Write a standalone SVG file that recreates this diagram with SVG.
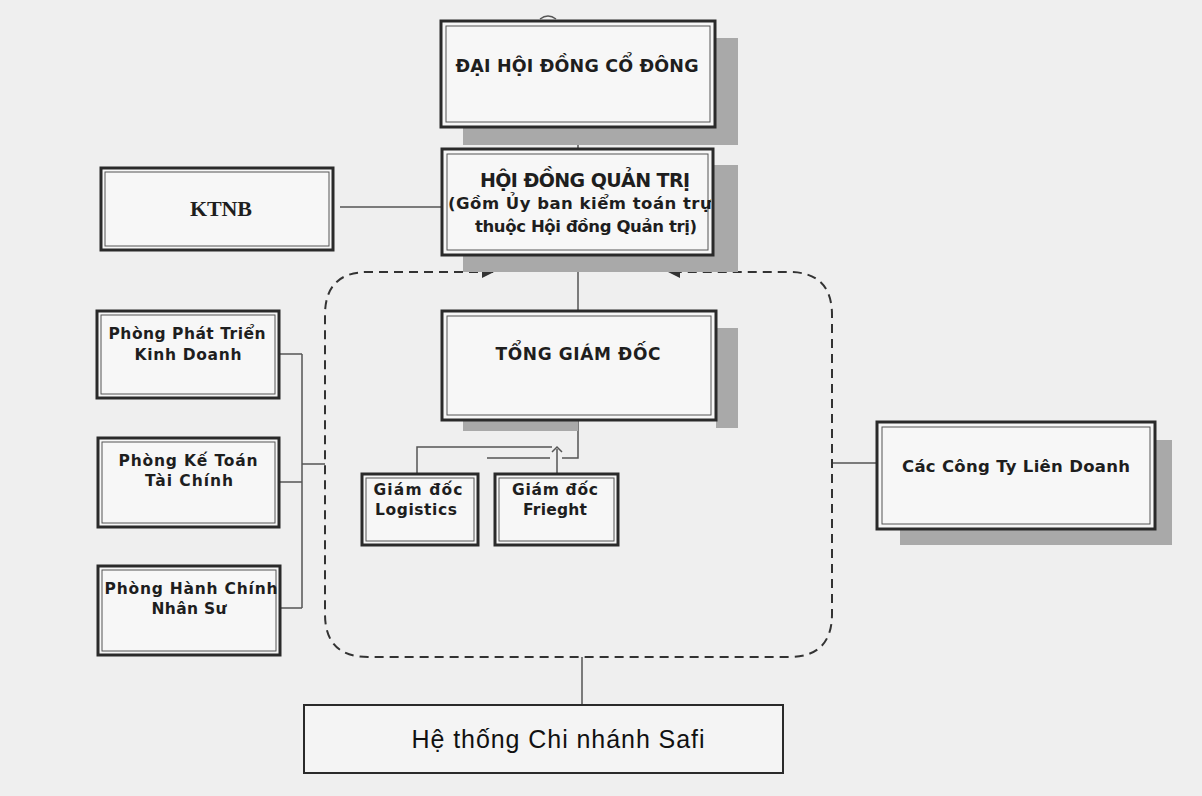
<svg xmlns="http://www.w3.org/2000/svg" width="1202" height="796" viewBox="0 0 1202 796">
<defs>
<style>
.bg{fill:#efefef}
.shadow{fill:#a9a9a9}
.box{fill:#f7f7f7;stroke:#2a2a2a;stroke-width:3}
.inner{fill:none;stroke:#555;stroke-width:1}
.t{font-family:"DejaVu Sans",Verdana,sans-serif;font-weight:bold;fill:#1e1e1e;text-anchor:middle}
.ts{font-family:"DejaVu Sans",Verdana,sans-serif;font-weight:bold;fill:#1e1e1e;text-anchor:start}
.line{fill:none;stroke:#555;stroke-width:1.5}
.dash{fill:none;stroke:#333;stroke-width:2;stroke-dasharray:9 6}
</style>
<clipPath id="hdqt"><rect x="444" y="150" width="267" height="104"/></clipPath>
</defs>
<rect class="bg" x="0" y="0" width="1202" height="796"/>

<g id="connectors">
<path class="line" d="M540 19 Q548 13 556 19"/>
<path class="line" d="M578 127 V148"/>
<path class="line" d="M340 207 H441"/>
<path class="line" d="M578 255 V310"/>
<path class="line" d="M578 420 V458 H562"/>
<path class="line" d="M417 473 V447 H552"/>
<path class="line" d="M557 473 V449"/>
<path class="line" d="M552 452 L557 447 L562 452"/>
<path class="line" d="M487 458 H550"/>
<path class="line" d="M279 354 H302 M279 482 H302 M280 608 H302 M302 354 V608 M302 464 H325"/>
<path class="line" d="M832 463 H876"/>
<path class="line" d="M582 657 V704"/>
<path class="dash" d="M493 272 H368 Q325 272 325 315 V614 Q325 657 368 657 H789 Q832 657 832 614 V315 Q832 272 789 272 H670"/>
<path d="M482 266 L494 272 L482 278 Z" fill="#333"/>
<path d="M680 266 L668 272 L680 278 Z" fill="#333"/>
</g>

<g id="dhdcd">
<rect class="shadow" x="715" y="38" width="23" height="107"/>
<rect class="shadow" x="463" y="127" width="275" height="18"/>
<rect class="box" x="441" y="21" width="274" height="106"/>
<rect class="inner" x="446" y="26" width="264" height="96"/>
<text class="t" x="577" y="72" font-size="17.5" textLength="243">ĐẠI HỘI ĐỒNG CỔ ĐÔNG</text>
</g>

<g id="hdqt-node">
<rect class="shadow" x="713" y="165" width="25" height="107"/>
<rect class="shadow" x="463" y="255" width="275" height="17"/>
<rect class="box" x="442" y="149" width="271" height="106"/>
<rect class="inner" x="447" y="154" width="261" height="96"/>
<g clip-path="url(#hdqt)">
<text class="t" x="585" y="187" font-size="19" textLength="210">HỘI ĐỒNG QUẢN TRỊ</text>
<text class="ts" x="448" y="209" font-size="16.5" textLength="274">(Gồm Ủy ban kiểm toán trực</text>
<text class="t" x="586" y="232" font-size="16.5" textLength="222">thuộc Hội đồng Quản trị)</text>
</g>
</g>

<g id="ktnb">
<rect class="box" x="101" y="168" width="232" height="82"/>
<rect class="inner" x="105" y="172" width="224" height="74"/>
<text x="221" y="216" font-size="22" font-weight="bold" font-family="'Liberation Serif','Times New Roman',serif" fill="#1e1e1e" text-anchor="middle" textLength="62">KTNB</text>
</g>

<g id="tgd">
<rect class="shadow" x="716" y="328" width="22" height="100"/>
<rect class="shadow" x="463" y="420" width="115" height="11"/>
<rect class="box" x="442" y="311" width="274" height="109"/>
<rect class="inner" x="447" y="316" width="264" height="99"/>
<text class="t" x="578" y="360" font-size="17" textLength="165">TỔNG GIÁM ĐỐC</text>
</g>

<g id="gd-logistics">
<rect class="box" x="362" y="474" width="116" height="71"/>
<rect class="inner" x="366" y="478" width="108" height="63"/>
<text class="t" x="418" y="495" font-size="15.5" textLength="89">Giám đốc</text>
<text class="t" x="416" y="515" font-size="15.5" textLength="82">Logistics</text>
</g>

<g id="gd-frieght">
<rect class="box" x="495" y="474" width="123" height="71"/>
<rect class="inner" x="499" y="478" width="115" height="63"/>
<text class="t" x="555" y="495" font-size="15.5" textLength="86">Giám đốc</text>
<text class="t" x="555" y="515" font-size="15.5" textLength="64">Frieght</text>
</g>

<g id="p-ptkd">
<rect class="box" x="97" y="311" width="182" height="87"/>
<rect class="inner" x="101" y="315" width="174" height="79"/>
<text class="t" x="187" y="339" font-size="15.5" textLength="157">Phòng Phát Triển</text>
<text class="t" x="188" y="360" font-size="15.5" textLength="107">Kinh Doanh</text>
</g>

<g id="p-kttc">
<rect class="box" x="98" y="438" width="181" height="89"/>
<rect class="inner" x="102" y="442" width="173" height="81"/>
<text class="t" x="188" y="466" font-size="15.5" textLength="139">Phòng Kế Toán</text>
<text class="t" x="189" y="486" font-size="15.5" textLength="88">Tài Chính</text>
</g>

<g id="p-hcns">
<rect class="box" x="98" y="566" width="182" height="89"/>
<rect class="inner" x="102" y="570" width="174" height="81"/>
<text class="t" x="191" y="594" font-size="15.5" textLength="173">Phòng Hành Chính</text>
<text class="t" x="189" y="614" font-size="15.5" textLength="75">Nhân Sư</text>
</g>

<g id="lien-doanh">
<rect class="shadow" x="1155" y="440" width="17" height="105"/>
<rect class="shadow" x="900" y="529" width="272" height="16"/>
<rect class="box" x="877" y="422" width="278" height="107"/>
<rect class="inner" x="882" y="427" width="268" height="97"/>
<text class="t" x="1016" y="472" font-size="16.5" textLength="228">Các Công Ty Liên Doanh</text>
</g>

<g id="chi-nhanh">
<rect x="304" y="705" width="479" height="68" fill="#f4f4f4" stroke="#2a2a2a" stroke-width="2"/>
<text x="558" y="748" font-size="25" font-family="'Liberation Sans',Arial,sans-serif" fill="#111" text-anchor="middle" textLength="293">Hệ thống Chi nhánh Safi</text>
</g>
</svg>
